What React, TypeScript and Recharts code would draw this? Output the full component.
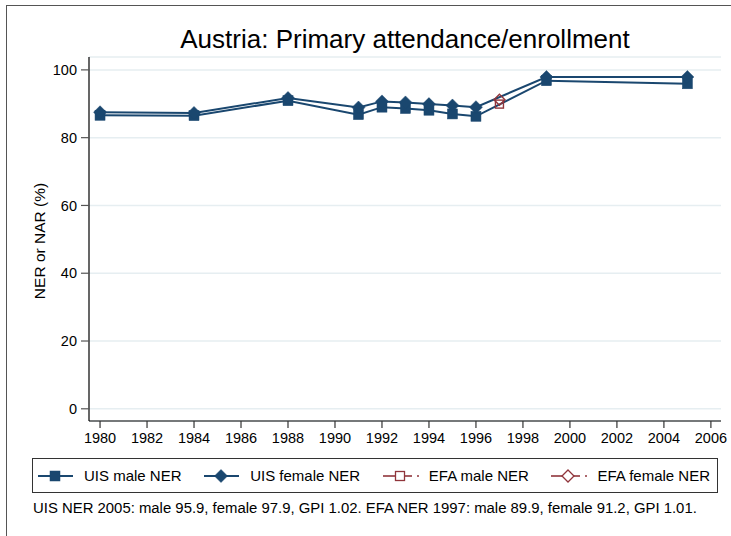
import React from 'react'
import { LineChart, Line, XAxis, YAxis, CartesianGrid } from 'recharts'

const NAVY = '#1a476f'
const MAROON = '#90353b'

// UIS series
const uisYears = [1980, 1984, 1988, 1991, 1992, 1993, 1994, 1995, 1996, 1999, 2005]
const uisMale = [86.6, 86.5, 90.9, 86.8, 89.0, 88.6, 88.1, 87.0, 86.3, 96.8, 95.9]
const uisFemale = [87.5, 87.3, 91.7, 88.9, 90.7, 90.4, 89.9, 89.5, 89.0, 97.9, 97.9]

// EFA series (single survey)
const efaYears = [1997]
const efaMale = [89.9]
const efaFemale = [91.2]

const xTicks = [1980, 1982, 1984, 1986, 1988, 1990, 1992, 1994, 1996, 1998, 2000, 2002, 2004, 2006]
const yTicks = [0, 20, 40, 60, 80, 100]

const legendItems = [
  { label: 'UIS male NER', color: NAVY, marker: 'square', hollow: false, dashed: false },
  { label: 'UIS female NER', color: NAVY, marker: 'diamond', hollow: false, dashed: false },
  { label: 'EFA male NER', color: MAROON, marker: 'square', hollow: true, dashed: true },
  { label: 'EFA female NER', color: MAROON, marker: 'diamond', hollow: true, dashed: true },
]

const note = 'UIS NER 2005: male 95.9, female 97.9, GPI 1.02. EFA NER 1997: male 89.9, female 91.2, GPI 1.01.'

const uisMaleData = uisYears.map((year, i) => ({ year, value: uisMale[i] }))
const uisFemaleData = uisYears.map((year, i) => ({ year, value: uisFemale[i] }))
const efaMaleData = efaYears.map((year, i) => ({ year, value: efaMale[i] }))
const efaFemaleData = efaYears.map((year, i) => ({ year, value: efaFemale[i] }))

const FONT = '"Liberation Sans", Arial, Helvetica, sans-serif'

function squareDot(size: number, color: string, hollow: boolean) {
  return (props: any) => {
    const { cx, cy, index } = props
    if (cx == null || cy == null) return <g key={index} />
    const h = size / 2
    return (
      <rect
        key={index}
        x={cx - h}
        y={cy - h}
        width={size}
        height={size}
        fill={hollow ? 'none' : color}
        stroke={color}
        strokeWidth={hollow ? 1.4 : 0.5}
      />
    )
  }
}

function diamondDot(size: number, color: string, hollow: boolean) {
  return (props: any) => {
    const { cx, cy, index } = props
    if (cx == null || cy == null) return <g key={index} />
    const h = size / 2
    return (
      <polygon
        key={index}
        points={`${cx},${cy - h} ${cx + h},${cy} ${cx},${cy + h} ${cx - h},${cy}`}
        fill={hollow ? 'none' : color}
        stroke={color}
        strokeWidth={hollow ? 1.4 : 0.5}
      />
    )
  }
}

function LegendIcon({ color, marker, hollow, dashed }: any) {
  const c = 17
  return (
    <svg width={36} height={14} style={{ display: 'block' }}>
      {dashed ? (
        <>
          <line x1={0} y1={7} x2={c} y2={7} stroke={color} strokeWidth={1.6} />
          <line x1={c + 5} y1={7} x2={c + 12} y2={7} stroke={color} strokeWidth={1.6} />
          <line x1={c + 17} y1={7} x2={c + 19} y2={7} stroke={color} strokeWidth={1.6} />
        </>
      ) : (
        <line x1={0} y1={7} x2={35} y2={7} stroke={color} strokeWidth={1.8} />
      )}
      {marker === 'square' ? (
        hollow ? (
          <rect x={c - 4.5} y={2.5} width={9} height={9} fill="#fff" stroke={color} strokeWidth={1.3} />
        ) : (
          <rect x={c - 5} y={2} width={10} height={10} fill={color} stroke={color} strokeWidth={0.5} />
        )
      ) : hollow ? (
        <polygon points={`${c},1 ${c + 6},7 ${c},13 ${c - 6},7`} fill="#fff" stroke={color} strokeWidth={1.3} />
      ) : (
        <polygon points={`${c},0.5 ${c + 6.5},7 ${c},13.5 ${c - 6.5},7`} fill={color} stroke={color} strokeWidth={0.5} />
      )}
    </svg>
  )
}

export default function App() {
  return (
    <div style={{ position: 'relative', width: 731, height: 536, background: '#fff', fontFamily: FONT, overflow: 'hidden' }}>
      <style>{'body{margin:0}'}</style>
      <div style={{ position: 'absolute', left: 6, top: 5, width: 740, height: 560, border: '1.5px solid #555' }} />
      <div
        style={{
          position: 'absolute',
          left: 89,
          width: 632,
          top: 24,
          textAlign: 'center',
          fontSize: 26,
          lineHeight: '30px',
          color: '#000',
          whiteSpace: 'nowrap',
        }}
      >
        Austria: Primary attendance/enrollment
      </div>
      <div
        style={{
          position: 'absolute',
          left: 40,
          top: 241,
          transform: 'translate(-50%, -50%) rotate(-90deg)',
          whiteSpace: 'nowrap',
          fontSize: 15.5,
          color: '#000',
        }}
      >
        NER or NAR (%)
      </div>
      <LineChart
        width={731}
        height={536}
        margin={{ top: 57, right: 10, bottom: 85, left: 29 }}
        style={{ position: 'absolute', left: 0, top: 0 }}
      >
        <CartesianGrid horizontal vertical={false} stroke="#e6eef1" strokeWidth={1.5} />
        <XAxis
          dataKey="year"
          type="number"
          domain={[1979.53, 2006.43]}
          allowDataOverflow
          ticks={xTicks}
          interval={0}
          height={30}
          tickSize={7}
          tickMargin={5}
          axisLine={{ stroke: '#000', strokeWidth: 1.2 }}
          tickLine={{ stroke: '#333', strokeWidth: 1.2 }}
          tick={{ fill: '#000', fontSize: 14.5, fontFamily: FONT }}
        />
        <YAxis
          type="number"
          domain={[-3.6, 103.8]}
          allowDataOverflow
          ticks={yTicks}
          interval={0}
          width={60}
          tickSize={8}
          tickMargin={4}
          axisLine={{ stroke: '#000', strokeWidth: 1.2 }}
          tickLine={{ stroke: '#555', strokeWidth: 1.2 }}
          tick={{ fill: '#000', fontSize: 14.5, fontFamily: FONT }}
        />
        <Line
          data={uisMaleData}
          dataKey="value"
          stroke={NAVY}
          strokeWidth={2}
          dot={squareDot(10, NAVY, false)}
          activeDot={false}
          isAnimationActive={false}
        />
        <Line
          data={uisFemaleData}
          dataKey="value"
          stroke={NAVY}
          strokeWidth={2}
          dot={diamondDot(13, NAVY, false)}
          activeDot={false}
          isAnimationActive={false}
        />
        <Line
          data={efaMaleData}
          dataKey="value"
          stroke={MAROON}
          strokeWidth={1.5}
          strokeDasharray="6 3"
          dot={squareDot(8, MAROON, true)}
          activeDot={false}
          isAnimationActive={false}
        />
        <Line
          data={efaFemaleData}
          dataKey="value"
          stroke={MAROON}
          strokeWidth={1.5}
          strokeDasharray="6 3"
          dot={diamondDot(11, MAROON, true)}
          activeDot={false}
          isAnimationActive={false}
        />
      </LineChart>
      <div
        style={{
          position: 'absolute',
          left: 32,
          top: 458,
          width: 686,
          height: 35,
          border: '1px solid #333',
          boxSizing: 'border-box',
          display: 'flex',
          alignItems: 'center',
          justifyContent: 'space-between',
          padding: '0 7px 0 5px',
          fontSize: 15,
          color: '#000',
        }}
      >
        {legendItems.map((item) => (
          <div key={item.label} style={{ display: 'flex', alignItems: 'center', gap: 10 }}>
            <LegendIcon {...item} />
            <span style={{ whiteSpace: 'nowrap' }}>{item.label}</span>
          </div>
        ))}
      </div>
      <div style={{ position: 'absolute', left: 33, top: 500, fontSize: 14.9, color: '#000', whiteSpace: 'nowrap' }}>{note}</div>
    </div>
  )
}
